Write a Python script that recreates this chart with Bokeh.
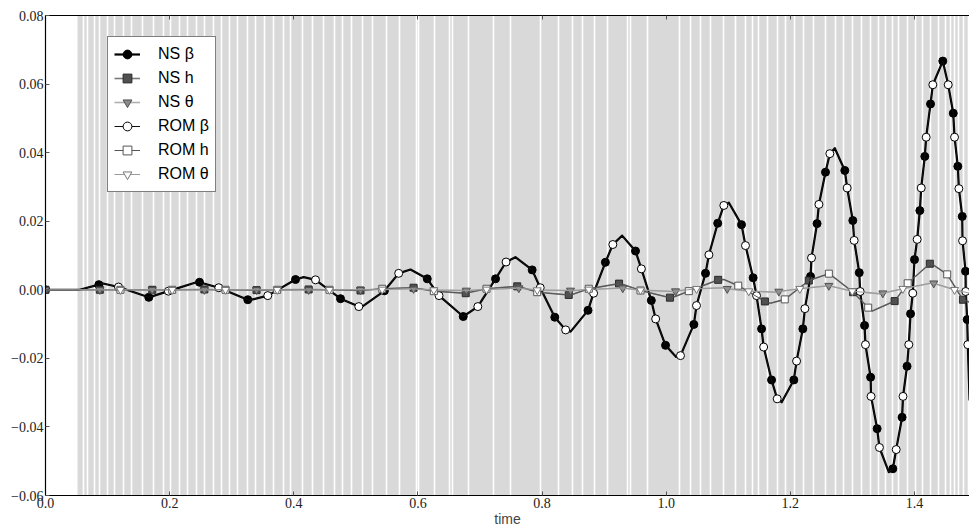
import numpy as np
from bokeh.plotting import figure
from bokeh.models import (Legend, LegendItem, FixedTicker, CustomJSTickFormatter,
                          LinearAxis, Range1d)
from bokeh.embed import file_html
from bokeh.resources import INLINE

# ---------------- data ----------------
x_ticks = [0.0, 0.2, 0.4, 0.6, 0.8, 1.0, 1.2, 1.4]
y_ticks = [-0.06, -0.04, -0.02, 0.0, 0.02, 0.04, 0.06, 0.08]

# shaded time bands: start of shading and white separators
band_start = 0.0516
band_end = 1.49
band_gaps = [0.0607, 0.0681, 0.0789, 0.0865, 0.0994, 0.1112, 0.1252, 0.1381, 0.1558,
             0.1745, 0.1896, 0.2014, 0.2159, 0.2293, 0.2433, 0.2562, 0.2702, 0.2831,
             0.2969, 0.3098, 0.3250, 0.3388, 0.3528, 0.3668, 0.3839, 0.3947, 0.4145,
             0.4306, 0.4479, 0.4656, 0.4790, 0.4930, 0.5107, 0.5273, 0.5489, 0.5703,
             0.5972, 0.6014, 0.6262, 0.6514, 0.6562, 0.6810, 0.7218, 0.7487, 0.7975,
             0.8270, 0.8486, 0.8647, 0.8845, 0.9050, 0.9381, 0.9425, 0.9694, 1.0219,
             1.0391, 1.0552, 1.0714, 1.0928, 1.1116, 1.1277, 1.1385, 1.1492, 1.1627,
             1.1788, 1.1922, 1.2067, 1.2217, 1.2378, 1.2567, 1.2728, 1.2861, 1.2997,
             1.3147, 1.3292, 1.3425, 1.3533, 1.3641, 1.3747, 1.3883, 1.4016, 1.4124,
             1.4258, 1.4382, 1.4500, 1.4580, 1.4649, 1.4714, 1.4794, 1.4865]

# NS beta markers
ns_beta_t = [0.0, 0.0859, 0.1664, 0.2481, 0.3259, 0.4028, 0.4753, 0.546, 0.615, 0.673,
             0.725, 0.784, 0.8205, 0.874, 0.902, 0.9505, 0.976, 0.9989, 1.0445, 1.0633,
             1.083, 1.1213, 1.140, 1.1536, 1.1697, 1.2056, 1.2201, 1.2325, 1.243, 1.2566,
             1.2877, 1.3006, 1.311, 1.3195, 1.3293, 1.3398, 1.3651, 1.3800, 1.388, 1.3936,
             1.4000, 1.4086, 1.4166, 1.4258, 1.4456, 1.4624, 1.4698, 1.4769, 1.4822, 1.4849]
ns_beta_v = [0.0, 0.0015, -0.0022, 0.0022, -0.0029, 0.0030, -0.0026, -0.0003, 0.0032, -0.0078,
             0.0032, 0.0058, -0.0080, -0.0060, 0.0080, 0.0113, -0.0031, -0.0162, -0.0101, 0.0048,
             0.0194, 0.0190, 0.0035, -0.0114, -0.0263, -0.0263, -0.0114, 0.0039, 0.0193, 0.0343,
             0.0348, 0.0202, 0.0050, -0.0104, -0.0255, -0.0405, -0.0522, -0.0372, -0.0223, -0.0070,
             0.0088, 0.0231, 0.0389, 0.0542, 0.0667, 0.0515, 0.0360, 0.0214, 0.0054, -0.0087]

# ROM beta markers
rom_beta_t = [0.1176, 0.198, 0.2792, 0.3581, 0.435, 0.5048, 0.569, 0.634, 0.6965, 0.742,
              0.797, 0.838, 0.883, 0.914, 0.960, 0.983, 1.023, 1.0488, 1.0688, 1.0928,
              1.1277, 1.1455, 1.157, 1.1788, 1.210, 1.2234, 1.2341, 1.246, 1.2636, 1.2915,
              1.3028, 1.3124, 1.321, 1.330, 1.3435, 1.3705, 1.3815, 1.3908, 1.3972, 1.4043,
              1.4108, 1.4188, 1.4295, 1.4543, 1.4645, 1.4715, 1.4774, 1.4825, 1.4859]
rom_beta_v = [0.0008, -0.0004, 0.0006, -0.0017, 0.0029, -0.0049, 0.0048, -0.0017, -0.0049, 0.0081,
              0.0006, -0.0117, -0.0010, 0.0132, 0.0061, -0.0085, -0.0192, -0.0046, 0.0102, 0.0246,
              0.0129, -0.0017, -0.0167, -0.0318, -0.0208, -0.0055, 0.0093, 0.0249, 0.0397, 0.0297,
              0.0144, -0.0005, -0.0160, -0.0311, -0.0460, -0.0466, -0.0311, -0.0160, -0.0010, 0.0147,
              0.0297, 0.0445, 0.0598, 0.0598, 0.0445, 0.0295, 0.0143, -0.0005, -0.0160]

# beta turning points and ends
beta_ext_t = [0.055, 0.091, 0.247, 0.3275, 0.416, 0.508, 0.588, 0.757, 0.846, 0.929,
              1.016, 1.101, 1.186, 1.2716, 1.3586, 1.4887]
beta_ext_v = [0.0, 0.0019, 0.0024, -0.0031, 0.0037, -0.0052, 0.0059, 0.0095, -0.0122, 0.0158,
              -0.0196, 0.0254, -0.0328, 0.0413, -0.0532, -0.0323]

# NS h markers
ns_h_t = [0.0, 0.0875, 0.172, 0.256, 0.34, 0.424, 0.5075, 0.593, 0.677, 0.760,
          0.843, 0.924, 1.006, 1.0837, 1.159, 1.2297, 1.301, 1.368, 1.4247, 1.478]
ns_h_v = [0.0, 0.0, 0.0, 0.0001, -0.0001, 0.0001, -0.0002, 0.0006, -0.0010, 0.0010,
          -0.0015, 0.0018, -0.0023, 0.0029, -0.0034, 0.0027, -0.0007, -0.0033, 0.0076, -0.0029]

# ROM h markers
rom_h_t = [0.1208, 0.2041, 0.29, 0.3733, 0.4575, 0.5425, 0.6256, 0.7105, 0.7922, 0.8753,
           0.9586, 1.0364, 1.116, 1.191, 1.262, 1.3254, 1.389, 1.4527]
rom_h_v = [0.0, 0.0, 0.0, 0.0, 0.0, 0.0003, -0.0004, 0.0003, -0.0007, 0.0003,
           -0.0002, -0.0004, 0.0012, -0.0028, 0.0047, -0.0052, 0.0019, 0.0045]

h_ext_t = [0.05, 0.59, 0.675, 0.76, 0.845, 0.925, 1.008, 1.093, 1.168, 1.262, 1.332, 1.426, 1.4887]
h_ext_v = [0.0, 0.0006, -0.0010, 0.0011, -0.0016, 0.0019, -0.0024, 0.0030, -0.0039, 0.0048,
           -0.0062, 0.0078, -0.0036]

# NS theta markers
ns_th_t = [0.0, 0.0875, 0.172, 0.256, 0.34, 0.424, 0.5075, 0.593, 0.678, 0.7625,
           0.8458, 0.930, 1.015, 1.0983, 1.1814, 1.262, 1.349, 1.431]
ns_th_v = [0.0, 0.0, 0.0, 0.0, 0.0, 0.0, 0.0, 0.0003, -0.0002, 0.0005,
           -0.0002, 0.0005, -0.0004, 0.0003, -0.0005, 0.0012, -0.0010, 0.0019]

# ROM theta markers
rom_th_t = [0.1208, 0.2041, 0.29, 0.3733, 0.4575, 0.5425, 0.6256, 0.7105, 0.7922, 0.8753,
            0.9586, 1.0488, 1.133, 1.2153, 1.2997, 1.3812, 1.4645]
rom_th_v = [0.0, 0.0, 0.0, 0.0, 0.0, 0.0001, -0.0001, 0.0001, -0.0001, 0.0001,
            -0.0001, 0.0003, -0.0004, 0.0003, -0.0004, 0.0003, 0.0]

th_ext_t = [0.05, 0.59, 0.68, 0.762, 0.846, 0.93, 1.012, 1.095, 1.18, 1.346, 1.428, 1.4887]
th_ext_v = [0.0, 0.0003, -0.0002, 0.0005, -0.0003, 0.0005, -0.0005, 0.0006, -0.0007,
            -0.0012, 0.0020, -0.0010]

labels = ["NS β", "NS h", "NS θ", "ROM β", "ROM h", "ROM θ"]


def curve(*pairs):
    t = np.concatenate([np.asarray(a, dtype=float) for a, _ in pairs])
    v = np.concatenate([np.asarray(b, dtype=float) for _, b in pairs])
    order = np.argsort(t, kind="stable")
    return t[order], v[order]


beta_t, beta_v = curve((ns_beta_t, ns_beta_v), (rom_beta_t, rom_beta_v), (beta_ext_t, beta_ext_v))
h_t, h_v = curve((ns_h_t, ns_h_v), (rom_h_t, rom_h_v), (h_ext_t, h_ext_v))
th_t, th_v = curve((ns_th_t, ns_th_v), (rom_th_t, rom_th_v), (th_ext_t, th_ext_v))

# ---------------- figure ----------------
p = figure(width=969, height=529, output_backend="svg", toolbar_location=None,
           x_range=Range1d(0, 1.4886), y_range=Range1d(-0.06, 0.08),
           min_border_left=45, min_border_right=0, min_border_top=15, min_border_bottom=34)
p.outline_line_color = None
p.xgrid.visible = False
p.ygrid.visible = False
p.background_fill_color = "white"
p.border_fill_color = "white"

# bands
p.vstrip(x0=[band_start], x1=[band_end], fill_color="#d9d9d9", line_color=None)
p.vspan(x=band_gaps, line_color="white", line_width=1.6)

# series
r_ns_b_l = p.line(beta_t, beta_v, line_color="black", line_width=2.2, line_join="round")
r_ns_b_m = p.scatter(ns_beta_t, ns_beta_v, marker="circle", size=8,
                     fill_color="black", line_color="black")
r_ns_h_l = p.line(h_t, h_v, line_color="#7a7a7a", line_width=1.6, line_join="round")
r_ns_h_m = p.scatter(ns_h_t, ns_h_v, marker="square", size=7,
                     fill_color="#505050", line_color="#2a2a2a")
r_ns_t_l = p.line(th_t, th_v, line_color="#b0b0b0", line_width=1.6, line_join="round")
r_ns_t_m = p.scatter(ns_th_t, ns_th_v, marker="inverted_triangle", size=8,
                     fill_color="#8a8a8a", line_color="#505050")
r_rom_b_l = p.line(beta_t, beta_v, line_color="#111111", line_width=1.0, line_join="round")
r_rom_b_m = p.scatter(rom_beta_t, rom_beta_v, marker="circle", size=8,
                      fill_color="white", line_color="black")
r_rom_h_l = p.line(h_t, h_v, line_color="#555555", line_width=1.0, line_join="round")
r_rom_h_m = p.scatter(rom_h_t, rom_h_v, marker="square", size=7,
                      fill_color="white", line_color="#555555")
r_rom_t_l = p.line(th_t, th_v, line_color="#9a9a9a", line_width=1.0, line_join="round")
r_rom_t_m = p.scatter(rom_th_t, rom_th_v, marker="inverted_triangle", size=8,
                      fill_color="white", line_color="#777777")

# axes
minus_fmt = CustomJSTickFormatter(code="""
    var s = Math.abs(tick).toFixed(2);
    return (tick < -1e-12 ? '\u2212' : '') + s;
""")
p.yaxis.ticker = FixedTicker(ticks=y_ticks)
p.yaxis.formatter = minus_fmt
p.xaxis.ticker = FixedTicker(ticks=x_ticks)
p.xaxis.formatter = CustomJSTickFormatter(code="return tick.toFixed(1);")
for ax in (p.xaxis[0], p.yaxis[0]):
    ax.major_tick_in = 4
    ax.major_tick_out = 0
    ax.minor_tick_line_color = None
    ax.axis_line_color = "black"
    ax.axis_line_width = 1.2
    ax.major_tick_line_color = "#555555"
    ax.major_label_text_font = "Liberation Serif"
    ax.major_label_text_font_size = "14px"
    ax.major_label_text_color = "#222222"
    ax.major_label_standoff = 2
p.xaxis.axis_label = "time"
p.xaxis.axis_label_text_font = "Liberation Sans"
p.xaxis.axis_label_text_font_style = "normal"
p.xaxis.axis_label_text_font_size = "14px"
p.xaxis.axis_label_standoff = 0

top = LinearAxis(ticker=FixedTicker(ticks=x_ticks),
                 formatter=CustomJSTickFormatter(code="return '';"))
top.major_tick_in = 4
top.major_tick_out = 0
top.minor_tick_line_color = None
top.major_tick_line_color = "#555555"
top.axis_line_color = "black"
top.axis_line_width = 1.2
top.major_label_text_font_size = "0px"
top.major_label_standoff = 0
p.add_layout(top, "above")

# legend
items = [
    LegendItem(label=labels[0], renderers=[r_ns_b_l, r_ns_b_m]),
    LegendItem(label=labels[1], renderers=[r_ns_h_l, r_ns_h_m]),
    LegendItem(label=labels[2], renderers=[r_ns_t_l, r_ns_t_m]),
    LegendItem(label=labels[3], renderers=[r_rom_b_l, r_rom_b_m]),
    LegendItem(label=labels[4], renderers=[r_rom_h_l, r_rom_h_m]),
    LegendItem(label=labels[5], renderers=[r_rom_t_l, r_rom_t_m]),
]
legend = Legend(items=items, location=(62, 303))
legend.label_text_font = "Liberation Sans"
legend.label_text_font_size = "16px"
legend.label_text_color = "black"
legend.glyph_width = 26
legend.glyph_height = 22
legend.label_height = 22
legend.spacing = 2
legend.padding = 6
legend.margin = 0
legend.label_standoff = 18
legend.border_line_color = "black"
legend.border_line_width = 1
legend.background_fill_color = "white"
legend.background_fill_alpha = 1.0
p.add_layout(legend)

open("out.html", "w").write(file_html(p, INLINE))
